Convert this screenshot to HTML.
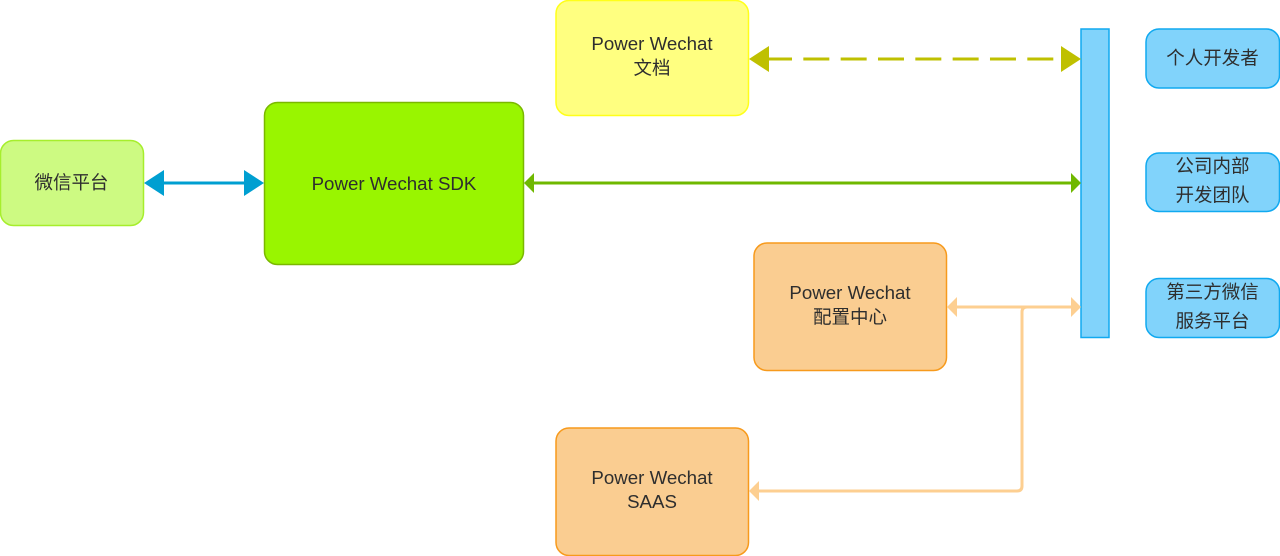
<!DOCTYPE html>
<html><head><meta charset="utf-8"><style>
html,body{margin:0;padding:0;background:#fff}
svg{display:block}
text{font-family:"Liberation Sans","Noto Sans CJK SC",sans-serif;font-size:18.7px;fill:#2e2e2e;text-anchor:middle}
text.c{font-size:18.5px}
</style></head><body>
<svg width="1280" height="556" viewBox="0 0 1280 556" xmlns="http://www.w3.org/2000/svg">
<rect x="0.5" y="140.5" width="143" height="85" rx="13" fill="#cdfa82" stroke="#a6ee2c" stroke-width="1.5"/>
<rect x="264.5" y="102.5" width="259" height="162" rx="13" fill="#99f500" stroke="#7ab800" stroke-width="1.5"/>
<rect x="556" y="0.5" width="192.5" height="115" rx="13" fill="#ffff80" stroke="#ffff1a" stroke-width="1.5"/>
<rect x="754" y="243" width="192.5" height="127.5" rx="13" fill="#facd91" stroke="#f79a1c" stroke-width="1.5"/>
<rect x="556" y="428" width="192.5" height="127.5" rx="13" fill="#facd91" stroke="#f79a1c" stroke-width="1.5"/>
<rect x="1081" y="29" width="28" height="308.5" fill="#81d3fb" stroke="#10a9f0" stroke-width="1.5"/>
<rect x="1146" y="29" width="133.500" height="59" rx="13" fill="#81d3fb" stroke="#10a9f0" stroke-width="1.5"/>
<rect x="1146" y="153" width="133.500" height="58.500" rx="13" fill="#81d3fb" stroke="#10a9f0" stroke-width="1.5"/>
<rect x="1146" y="278.500" width="133.500" height="59" rx="13" fill="#81d3fb" stroke="#10a9f0" stroke-width="1.5"/>

<path d="M160 183H248" stroke="#009fd1" stroke-width="3" fill="none"/>
<path d="M144 183L164 170V196Z M264 183L244 170V196Z" fill="#009fd1"/>

<path d="M766 59H1054" stroke="#bfc000" stroke-width="3" fill="none" stroke-dasharray="26 11.33"/>
<path d="M749 59L769 46V72Z M1081 59L1061 46V72Z" fill="#bfc000"/>

<path d="M530 183H1075" stroke="#6fb800" stroke-width="3" fill="none"/>
<path d="M524 183L534 173V193Z M1081 183L1071 173V193Z" fill="#6fb800"/>

<path d="M953 307H1075 M755 491H1017Q1022 491 1022 486V312Q1022 307 1027 307H1030" stroke="#fdcf91" stroke-width="3" fill="none"/>
<path d="M947 307L957 297V317Z M1081 307L1071 297V317Z M749 491L759 481V501Z" fill="#fdcf91"/>

<text class="c" x="71.500" y="189">微信平台</text>
<text x="394" y="190">Power Wechat SDK</text>
<text x="652" y="50">Power Wechat</text>
<text class="c" x="652" y="74.500">文档</text>
<text x="850" y="299">Power Wechat</text>
<text class="c" x="850" y="323.500">配置中心</text>
<text x="652" y="484">Power Wechat</text>
<text x="652" y="508">SAAS</text>
<text class="c" x="1212.500" y="64.500">个人开发者</text>
<text class="c" x="1212.500" y="172.500">公司内部</text>
<text class="c" x="1212.500" y="201.500">开发团队</text>
<text class="c" x="1212.500" y="298.500">第三方微信</text>
<text class="c" x="1212.500" y="327.500">服务平台</text>
</svg>
</body></html>
